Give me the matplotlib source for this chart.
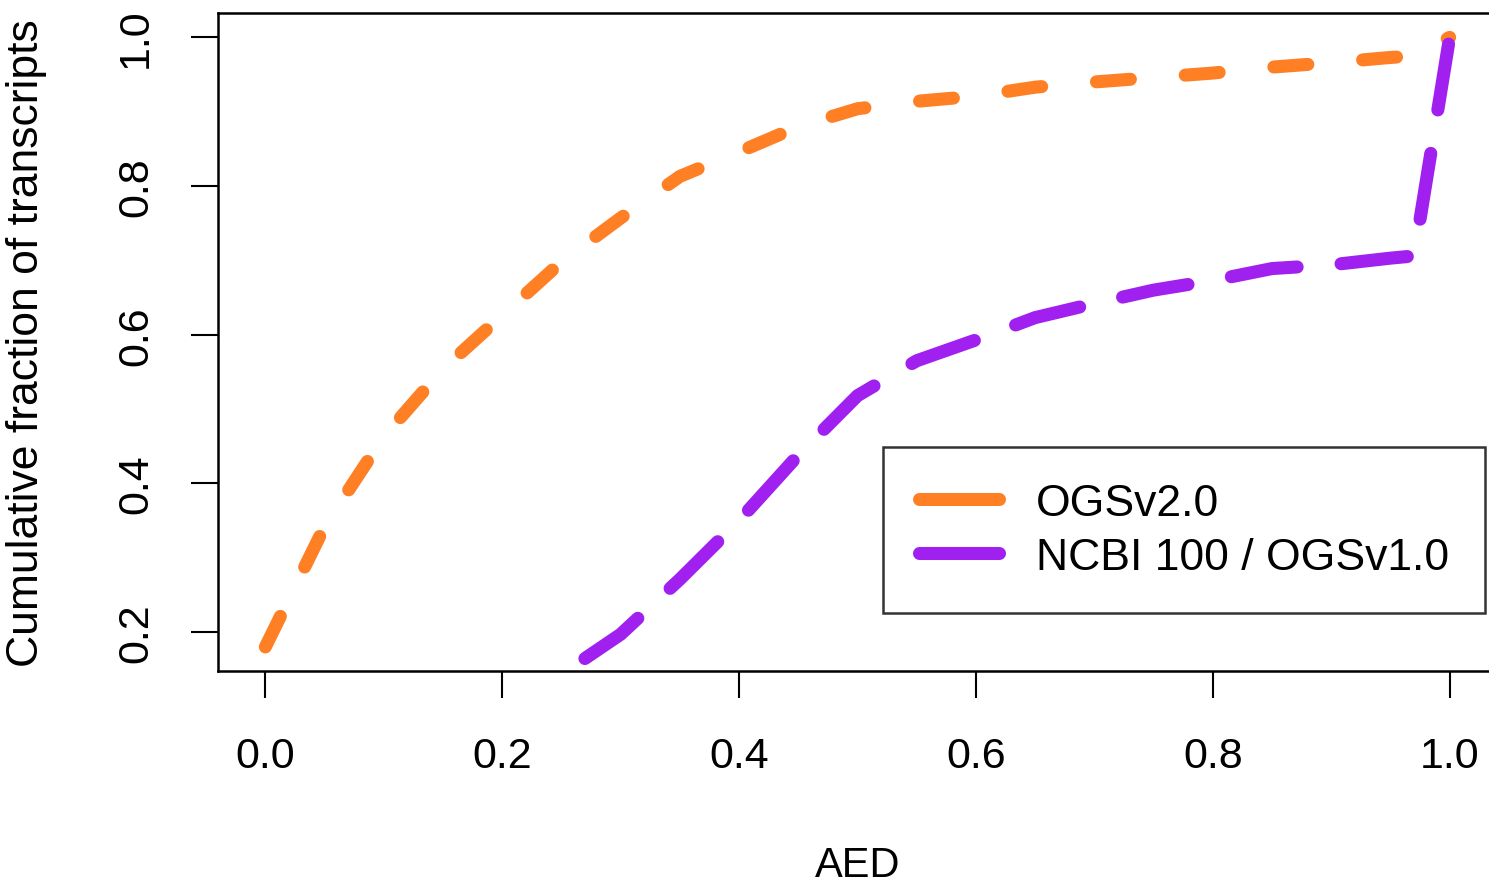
import matplotlib
matplotlib.use('Agg')
import matplotlib.pyplot as plt
from matplotlib.lines import Line2D

plt.rcParams['font.family'] = ['Liberation Sans', 'DejaVu Sans']
plt.rcParams['lines.scale_dashes'] = False

# AED thresholds and cumulative fractions
aed_v2 = [0.0, 0.05, 0.10, 0.15, 0.20, 0.25, 0.30, 0.35, 0.40, 0.45, 0.50,
          0.55, 0.60, 0.65, 0.70, 0.75, 0.80, 0.85, 0.90, 0.95, 0.97, 1.0]
frac_v2 = [0.18, 0.342, 0.463, 0.554, 0.626, 0.698, 0.757, 0.813, 0.846, 0.880, 0.904,
           0.914, 0.921, 0.933, 0.940, 0.946, 0.952, 0.960, 0.966, 0.973, 0.975, 1.0]

aed_v1 = [0.25, 0.30, 0.35, 0.40, 0.45, 0.50, 0.55, 0.60, 0.65, 0.70,
          0.75, 0.80, 0.85, 0.90, 0.95, 0.97, 1.0]
frac_v1 = [0.143, 0.197, 0.271, 0.350, 0.438, 0.518, 0.565, 0.593, 0.623, 0.642,
           0.660, 0.673, 0.689, 0.694, 0.703, 0.706, 1.0]

labels = ['OGSv2.0', 'NCBI 100 / OGSv1.0']
colors = ['#FF7F24', '#A020F0']
xticks = [0.0, 0.2, 0.4, 0.6, 0.8, 1.0]
yticks = [0.2, 0.4, 0.6, 0.8, 1.0]

W, H = 1489, 878
fig = plt.figure(figsize=(W / 100, H / 100), dpi=100)
ax = fig.add_axes([218 / W, 206 / H, 1279 / W, 658 / H])

lw = 9.4
ax.plot(aed_v2, frac_v2, color=colors[0], lw=lw, linestyle=(0, (24.5, 39.6)),
        dash_capstyle='round', solid_capstyle='round')
ax.plot(aed_v1, frac_v1, color=colors[1], lw=lw, linestyle=(59.3, (48, 31.7)),
        dash_capstyle='round', solid_capstyle='round')

ax.set_xlim(-0.04, 1.04)
ax.set_ylim(0.1476, 1.0328)
ax.set_xticks(xticks)
ax.set_xticklabels(['%.1f' % v for v in xticks])
ax.set_yticks(yticks)
ax.set_yticklabels(['%.1f' % v for v in yticks], rotation=90, va='center')
ax.tick_params(direction='out', length=19.5, width=1.5, labelsize=31)
ax.tick_params(axis='x', pad=27)
ax.tick_params(axis='y', pad=25)
for s in ax.spines.values():
    s.set_linewidth(1.8)

ax.set_xlabel('AED', fontsize=30)
ax.xaxis.set_label_coords(0.5, -0.264)
ax.set_ylabel('Cumulative fraction of transcripts', fontsize=32)
ax.yaxis.set_label_coords(-0.1337, 0.5)

handles = [Line2D([], [], color=c, lw=lw, solid_capstyle='round') for c in colors]
leg = ax.legend(handles, labels, loc='upper left',
                bbox_to_anchor=(883 / W, 1 - 448 / H), bbox_transform=fig.transFigure,
                fontsize=32, frameon=True, fancybox=False, edgecolor='black',
                handlelength=1.8, handletextpad=0.85, borderpad=0.8,
                labelspacing=0.3, borderaxespad=0)
leg.get_frame().set_linewidth(1.8)

fig.savefig('out.png', dpi=100)
